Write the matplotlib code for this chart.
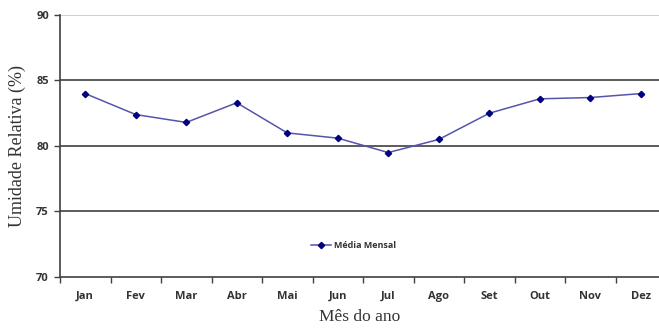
import numpy as np
import matplotlib.pyplot as plt
from matplotlib.ticker import FixedLocator

meses = ['Jan', 'Fev', 'Mar', 'Abr', 'Mai', 'Jun', 'Jul', 'Ago', 'Set', 'Out', 'Nov', 'Dez']
umidade = [84.0, 82.4, 81.8, 83.3, 81.0, 80.6, 79.5, 80.5, 82.5, 83.6, 83.7, 84.0]
yticks = [70, 75, 80, 85, 90]

fig = plt.figure(figsize=(6.59, 3.31), dpi=100)
ax = fig.add_axes([60/659, 1-277/331, 599/659, 262/331])

x = np.arange(len(meses))
ax.plot(x, umidade, color='#5555aa', lw=1.1, marker='D', ms=3.2,
        mfc='#000080', mec='#000080', label='Média Mensal', zorder=3)

ax.set_ylim(70, 90)
ax.set_xlim(-0.5, 11.5 - 7/50.5)

for v in [75, 80, 85]:
    ax.axhline(v, color='#404040', lw=1.2, zorder=1)
ax.axhline(90, color='#c8c8c8', lw=1.2, zorder=1)

ax.set_yticks(yticks)
ax.set_yticklabels([str(v) for v in yticks], fontfamily='Open Sans',
                   fontweight='bold', fontsize=8, color='#333333')
ax.set_xticks(x)
ax.set_xticklabels(meses, fontfamily='Open Sans', fontweight='bold',
                   fontsize=8, color='#333333')
ax.tick_params(axis='x', which='major', length=0, pad=10)
ax.xaxis.set_minor_locator(FixedLocator(np.arange(-0.5, 12, 1)))
ax.tick_params(axis='x', which='minor', length=4, width=1, color='#404040', direction='out')
ax.tick_params(axis='y', length=4, width=1, color='#404040', direction='out', pad=4)

for s in ['top', 'right']:
    ax.spines[s].set_visible(False)
for s in ['left', 'bottom']:
    ax.spines[s].set_color('#404040')
    ax.spines[s].set_linewidth(1.2)

ax.set_ylabel('Umidade Relativa (%)', fontfamily='Liberation Serif', fontsize=13,
              color='#333333', labelpad=7)
ax.set_xlabel('Mês do ano', fontfamily='Liberation Serif', fontsize=12.5,
              color='#333333', labelpad=5)

ax.legend(loc='center', bbox_to_anchor=(0.49, 0.12), frameon=False,
          prop={'family': 'Open Sans', 'size': 6.5, 'weight': 'bold'},
          handlelength=2.2, handletextpad=0.3, labelcolor='#333333')

fig.savefig('out.png', dpi=100)
